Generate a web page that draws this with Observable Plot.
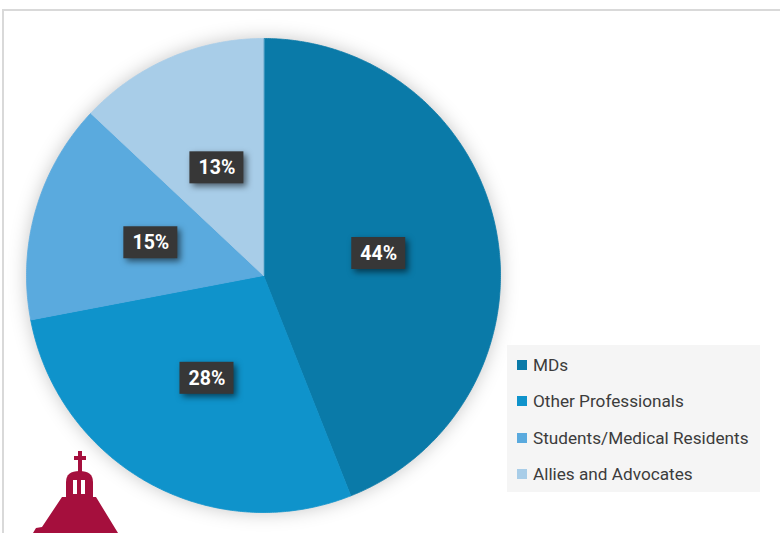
<!DOCTYPE html>
<html><head><meta charset="utf-8">
<script src="https://cdn.jsdelivr.net/npm/d3@7"></script>
<script src="https://cdn.jsdelivr.net/npm/@observablehq/plot@0.6"></script>
<style>
body{margin:0;background:#fff;font-family:Roboto,"Noto Sans",sans-serif;}
#wrap{position:relative;width:780px;height:533px;overflow:hidden;background:#fff;}
#frame{position:absolute;left:2px;top:9px;width:800px;height:600px;border-top:2px solid #d9d9d9;border-left:2px solid #d9d9d9;pointer-events:none;}
#legend{position:absolute;left:507px;top:345px;width:253px;height:147px;background:#f5f5f5;padding-top:2px;box-sizing:border-box;}
.item{height:36.3px;display:flex;align-items:center;padding-left:10px;font-size:17.2px;color:#3c3c3c;}
.sw{width:10px;height:10px;margin-right:6px;flex:none;}
#logo{position:absolute;left:30px;top:448px;}
</style></head><body><div id="wrap"><div id="chart"></div><div id="frame"></div><div id="legend"></div>
<svg id="logo" width="95" height="90" viewBox="30 448 95 90">
<g fill="#a50f3d">
<rect x="78" y="451" width="4" height="22"/>
<rect x="74" y="456" width="12" height="4"/>
<path d="M66 499 L66 482 Q66 471 79.5 471 Q93 471 93 482 L93 499 Z"/>
<path d="M62 497 L96 497 L118 533 L33 533 L36 528 L42 527 Z"/>
</g>
<g fill="#fff"><rect x="73" y="480" width="4" height="14"/><rect x="81" y="480" width="4" height="14"/></g>
</svg>
</div>
<script>
const categories = ["MDs","Other Professionals","Students/Medical Residents","Allies and Advocates"];
const values = [44, 28, 15, 13];
const labels = ["44%","28%","15%","13%"];
const colors = ["#0a7aa8","#0f93cb","#5aaade","#a8cde8"];

const arcs = d3.pie().sort(null).value(d => d)(values);
const slicePoints = [];
arcs.forEach((a, i) => {
  const n = Math.max(2, Math.ceil((a.endAngle - a.startAngle) / (Math.PI / 360)));
  slicePoints.push({name: categories[i], x: 0, y: 0});
  for (let k = 0; k <= n; k++) {
    const t = a.startAngle + (a.endAngle - a.startAngle) * k / n;
    slicePoints.push({name: categories[i], x: Math.sin(t), y: -Math.cos(t)});
  }
});
const labelPos = arcs.map((a, i) => {
  const t = (a.startAngle + a.endAngle) / 2;
  return {name: categories[i], label: labels[i], x: 0.495 * Math.sin(t), y: -0.495 * Math.cos(t)};
});

const chart = Plot.plot({
  width: 780, height: 533,
  marginTop: 0, marginRight: 0, marginBottom: 0, marginLeft: 0,
  x: {domain: [-1, 1], range: [26, 500], axis: null},
  y: {domain: [-1, 1], range: [38, 512], axis: null},
  color: {domain: categories, range: colors},
  style: {background: "transparent"},
  marks: [
    Plot.line(slicePoints, {x: "x", y: "y", z: "name", fill: "name", stroke: "name", strokeWidth: 0.8, curve: "linear-closed"}),
    Plot.rect(labelPos, {x1: "x", x2: "x", y1: "y", y2: "y", fill: "#373737",
      insetLeft: -27, insetRight: -27, insetTop: -16, insetBottom: -16}),
    Plot.text(labelPos, {x: "x", y: "y", text: "label", fill: "white", fontWeight: "bold",
      fontSize: 19.5, fontFamily: "Roboto, 'Noto Sans', sans-serif", dy: 0})
  ]
});
document.getElementById("chart").appendChild(chart);
const lineG = chart.querySelector('g[aria-label="line"]');
if (lineG) lineG.style.filter = "drop-shadow(0 0 9px rgba(0,0,0,0.22))";
const rectG = chart.querySelector('g[aria-label="rect"]');
if (rectG) rectG.style.filter = "drop-shadow(3px 3px 3px rgba(0,0,0,0.55))";

const legend = document.getElementById("legend");
categories.forEach((c, i) => {
  const it = document.createElement("div");
  it.className = "item";
  const sw = document.createElement("span");
  sw.className = "sw"; sw.style.background = colors[i];
  it.appendChild(sw);
  it.appendChild(document.createTextNode(c));
  legend.appendChild(it);
});
</script>
</body></html>
